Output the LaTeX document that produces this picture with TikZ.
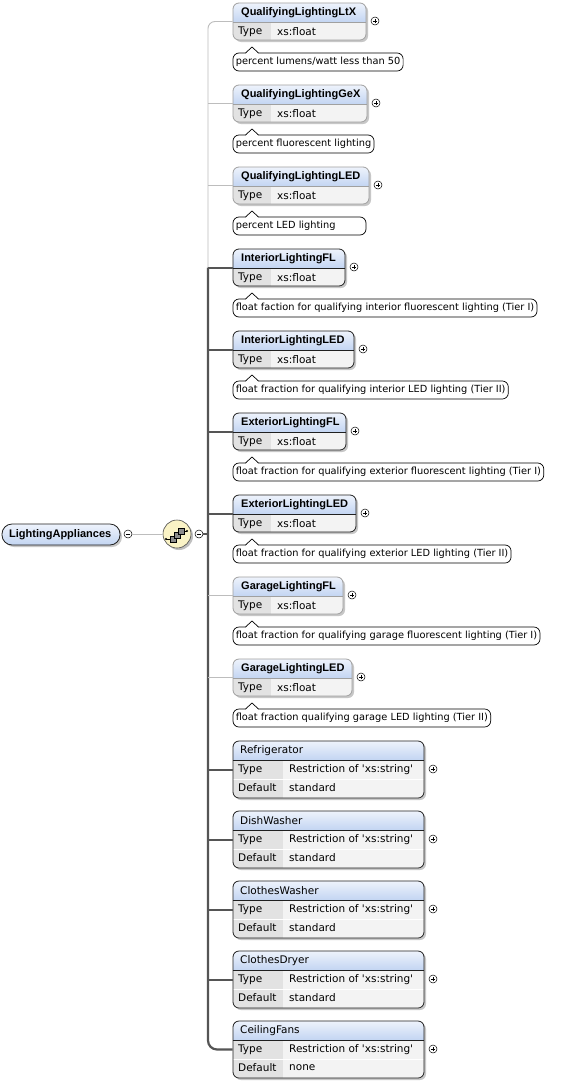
\documentclass[tikz,border=0pt]{standalone}
\usepackage{fontspec}
\setmainfont{DejaVu Sans}
\newfontfamily\namefam{Liberation Sans}
\usetikzlibrary{fit}
\definecolor{hdrtop}{HTML}{EEF3FC}
\definecolor{hdrbot}{HTML}{C3D5F2}
\definecolor{rowval}{HTML}{F3F3F3}
\definecolor{rowlab}{HTML}{E2E2E2}
\definecolor{optb}{HTML}{A0A0A0}
\definecolor{reqb}{HTML}{202020}
\definecolor{busdark}{HTML}{555555}
\definecolor{buslight}{HTML}{BDBDBD}
\definecolor{seqfill}{HTML}{FAF3C6}
\tikzset{
  namefont/.style={font=\namefam\fontsize{11}{12}\selectfont\bfseries, inner sep=0pt, anchor=west},
  bnamefont/.style={font=\fontsize{10.5}{12}\selectfont, inner sep=0pt, anchor=west},
  cellfont/.style={font=\fontsize{10.5}{12}\selectfont, inner sep=0pt, anchor=west},
  annfont/.style={font=\fontsize{9.8}{12}\selectfont, inner sep=0pt, anchor=west},
  annbox/.style={draw=black, line width=0.7pt, rounded corners=6pt,
     inner xsep=2.6pt, inner ysep=0pt, minimum height=18pt},
  pm/.style={circle, draw=black, fill=white, line width=0.5pt, minimum size=8pt, inner sep=0pt},
  optline/.style={draw=buslight, line width=0.9pt},
  reqline/.style={draw=busdark, line width=2.2pt},
  shadowfill/.style={fill=black!22, rounded corners=6pt},
}
% simple element: id, top, right, border colour, name, annotation text
\newcommand\felem[6]{%
  \fill[shadowfill] (235,{#2+2}) rectangle ({#3+2},{#2+39});
  \begin{scope}
    \clip[rounded corners=6pt] (233,#2) rectangle (#3,{#2+37});
    \shade[top color=hdrtop,bottom color=hdrbot] (233,#2) rectangle (#3,{#2+19});
    \fill[rowval] (233,{#2+19}) rectangle (#3,{#2+37});
    \fill[rowlab] (233,{#2+19}) rectangle (271,{#2+37});
  \end{scope}
  \draw[#4, line width=0.4pt] (233,{#2+19}) -- (#3,{#2+19});
  \node[fit={(233,#2) (#3,{#2+37})}, inner sep=0pt, draw=#4, line width=0.8pt, rounded corners=6pt] (#1) {};
  \node[namefont] (#1n) at (241,{#2+10}) {#5};
  \node[cellfont] (#1t) at (238,{#2+28.5}) {Type};
  \node[cellfont] (#1v) at (277,{#2+28.5}) {xs:float};
  \node[pm] (#1p) at ({#3+9},{#2+18}) {};
  \draw[line width=0.5pt] ([xshift=-2.2pt]#1p.center) -- ([xshift=2.2pt]#1p.center)
        ([yshift=-2.2pt]#1p.center) -- ([yshift=2.2pt]#1p.center);
  \node[annfont] (#1x) at (235.6,{#2+59}) {#6};
  \coordinate (#1m) at ({#3-5.6},{#2+59});
  \node[annbox, fit={(#1x) (#1m)}] (#1a) {};
  \fill[white] (245.5,{#2+50.8}) -- (252,{#2+44}) -- (258.5,{#2+50.8}) -- cycle;
  \draw[line width=0.7pt, line join=miter] (245.5,{#2+50}) -- (252,{#2+44}) -- (258.5,{#2+50});
}
% large element: id, top, name, default
\newcommand\belem[4]{%
  \fill[shadowfill] (235,{#2+2}) rectangle (426,{#2+59});
  \begin{scope}
    \clip[rounded corners=6pt] (233,#2) rectangle (424,{#2+57});
    \shade[top color=hdrtop,bottom color=hdrbot] (233,#2) rectangle (424,{#2+19});
    \fill[rowval] (233,{#2+19}) rectangle (424,{#2+57});
    \fill[rowlab] (233,{#2+19}) rectangle (283,{#2+57});
    \draw[white, line width=1pt] (233,{#2+38}) -- (424,{#2+38});
  \end{scope}
  \draw[reqb, line width=0.4pt] (233,{#2+19}) -- (424,{#2+19});
  \node[fit={(233,#2) (424,{#2+57})}, inner sep=0pt, draw=reqb, line width=0.8pt, rounded corners=6pt] (#1) {};
  \node[bnamefont] (#1n) at (240,{#2+10}) {#3};
  \node[cellfont] (#1t) at (238,{#2+28.5}) {Type};
  \node[cellfont] (#1v) at (289,{#2+28.5}) {Restriction of \textquotesingle xs:string\textquotesingle};
  \node[cellfont] (#1d) at (238,{#2+47}) {Default};
  \node[cellfont] (#1w) at (289,{#2+47}) {#4};
  \node[pm] (#1p) at (433,{#2+28}) {};
  \draw[line width=0.5pt] ([xshift=-2.2pt]#1p.center) -- ([xshift=2.2pt]#1p.center)
        ([yshift=-2.2pt]#1p.center) -- ([yshift=2.2pt]#1p.center);
}
\begin{document}
\begin{tikzpicture}[x=1pt,y=-1pt]
\useasboundingbox[fill=white] (0,0) rectangle (569,1082);
\coordinate (bus) at (208,0);

% elements
\felem{e1}{3}{366}{optb}{QualifyingLightingLtX}{percent lumens/watt less than 50}
\felem{e2}{85}{367}{optb}{QualifyingLightingGeX}{percent fluorescent lighting}
\felem{e3}{167}{369}{optb}{QualifyingLightingLED}{percent LED lighting}
\felem{e4}{249}{345}{reqb}{InteriorLightingFL}{float faction for qualifying interior fluorescent lighting (Tier I)}
\felem{e5}{331}{354}{reqb}{InteriorLightingLED}{float fraction for qualifying interior LED lighting (Tier II)}
\felem{e6}{413}{346}{reqb}{ExteriorLightingFL}{float fraction for qualifying exterior fluorescent lighting (Tier I)}
\felem{e7}{495}{356}{reqb}{ExteriorLightingLED}{float fraction for qualifying exterior LED lighting (Tier II)}
\felem{e8}{577}{343}{optb}{GarageLightingFL}{float fraction for qualifying garage fluorescent lighting (Tier I)}
\felem{e9}{659}{352}{optb}{GarageLightingLED}{float fraction qualifying garage LED lighting (Tier II)}
\belem{e10}{741}{Refrigerator}{standard}
\belem{e11}{811}{DishWasher}{standard}
\belem{e12}{881}{ClothesWasher}{standard}
\belem{e13}{951}{ClothesDryer}{standard}
\belem{e14}{1021}{CeilingFans}{none}

% bus
\draw[optline, rounded corners=7pt] (e1.west) -| (bus |- e4.west);
\draw[optline] (bus |- e2.west) -- (e2.west);
\draw[optline] (bus |- e3.west) -- (e3.west);
\draw[reqline, rounded corners=9pt] (bus |- e4.west) -- (bus |- e14.west) -- (e14.west);
\foreach \e in {e4,e5,e6,e7,e10,e11,e12,e13}{\draw[reqline, line width=2pt] (bus |- \e.west) -- (\e.west);}
\draw[optline] (bus |- e8.west) -- (e8.west);
\draw[optline] (bus |- e9.west) -- (e9.west);

% root
\fill[black!22, rounded corners=10pt] (4,526) rectangle (122,547);
\node[fit={(2,524) (120,545)}, inner sep=0pt, draw=reqb, line width=0.8pt, rounded corners=10pt, top color=hdrtop, bottom color=hdrbot] (root) {};
\node[namefont] (rootn) at (9,534.5) {LightingAppliances};
\node[pm] (rm) at (128,534) {};
\draw[line width=0.5pt] ([xshift=-2.2pt]rm.center) -- ([xshift=2.2pt]rm.center);
% sequence compositor
\fill[black!25] (179,536) circle (14);
\node[circle, draw=black!70, fill=seqfill, line width=0.6pt, minimum size=28pt, inner sep=0pt] (seq) at (177,534) {};
\node[pm] (sm) at (199,534) {};
\draw[line width=0.5pt] ([xshift=-2.2pt]sm.center) -- ([xshift=2.2pt]sm.center);
\draw[optline] (rm) -- (seq);
\draw[busdark, line width=1.2pt] (sm) -- (bus |- sm);
% icon inside compositor
\draw[line width=0.6pt] (166,539) -- (170,539) (180,531) -- (187,531);
\fill (166,539) circle (1.2) (187,531) circle (1.2);
\draw[fill=black!45, line width=0.5pt] (170,536) rectangle (176,542);
\draw[fill=black!45, line width=0.5pt] (174,532) rectangle (180,538);
\draw[fill=black!45, line width=0.5pt] (178,528) rectangle (184,534);
\end{tikzpicture}
\end{document}
